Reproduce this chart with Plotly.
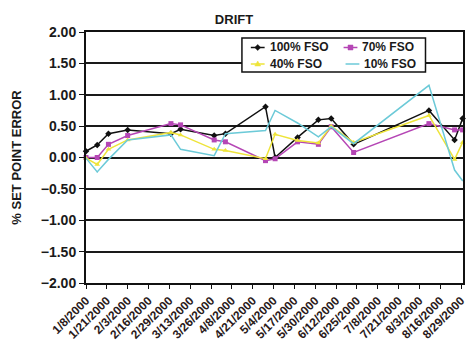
import plotly.graph_objects as go

# ---- data ----
dates = ["2000-01-08", "2000-01-15", "2000-01-22", "2000-02-03", "2000-03-01",
         "2000-03-07", "2000-03-28", "2000-04-04", "2000-04-29", "2000-05-05",
         "2000-05-19", "2000-06-01", "2000-06-09", "2000-06-23", "2000-08-09",
         "2000-08-25", "2000-08-30"]
fso100 = [0.10, 0.20, 0.38, 0.44, 0.38, 0.45, 0.35, 0.38, 0.81, 0.00,
          0.32, 0.60, 0.62, 0.21, 0.75, 0.28, 0.62]
fso70 = [0.00, 0.00, 0.21, 0.35, 0.54, 0.52, 0.28, 0.25, -0.05, -0.02,
         0.25, 0.21, 0.49, 0.08, 0.54, 0.44, 0.44]
fso40 = [-0.01, -0.11, 0.13, 0.28, 0.40, 0.36, 0.13, 0.11, -0.02, 0.37,
         0.27, 0.23, 0.50, 0.24, 0.67, -0.03, 0.24]
fso10 = [-0.01, -0.23, -0.03, 0.28, 0.36, 0.13, 0.03, 0.38, 0.43, 0.75,
         0.55, 0.33, 0.49, 0.22, 1.15, -0.20, -0.37]
series_names = ["100% FSO", "70% FSO", "40% FSO", "10% FSO"]

FONT = "Liberation Sans, Arial, sans-serif"
W, H = 472, 353
L, R, T, B = 86, 4, 32, 70
PW, PH = W - L - R, H - T - B


def px_x(p):
    return (p - L) / PW


def px_y(p):
    return (H - B - p) / PH


colors = ["#111111", "#B546B5", "#EEE43A", "#6CCAD8"]
symbols = ["diamond", "square", "triangle-up", "circle"]
msizes = [5, 5, 5, 1]

fig = go.Figure()
for name, vals, c, s, m in zip(series_names, [fso100, fso70, fso40, fso10],
                               colors, symbols, msizes):
    fig.add_trace(go.Scatter(
        x=dates, y=vals, name=name, mode="lines+markers",
        line=dict(color=c, width=1.5),
        marker=dict(color=c, symbol=s, size=m),
        cliponaxis=False, showlegend=False,
    ))

# ---- manual legend (box, samples, labels) ----
shapes = [dict(type="rect", xref="paper", yref="paper",
               x0=px_x(244), x1=px_x(430), y0=px_y(72), y1=px_y(38),
               line=dict(color="#111111", width=1.5), fillcolor="white",
               layer="above")]
annotations = []
slots = [(253, 47.5), (347, 47.5), (253, 64), (349, 64)]
for (sx, sy), name, c, sym in zip(slots, series_names, colors, symbols):
    shapes.append(dict(type="line", xref="paper", yref="paper",
                       x0=px_x(sx), x1=px_x(sx + 14), y0=px_y(sy), y1=px_y(sy),
                       line=dict(color=c, width=1.5), layer="above"))
    cx = sx + 7
    if sym == "diamond":
        pts = [(cx - 3, sy), (cx, sy - 3), (cx + 3, sy), (cx, sy + 3)]
    elif sym == "square":
        pts = [(cx - 2.5, sy - 2.5), (cx + 2.5, sy - 2.5), (cx + 2.5, sy + 2.5), (cx - 2.5, sy + 2.5)]
    elif sym == "triangle-up":
        pts = [(cx - 3, sy + 2), (cx, sy - 3), (cx + 3, sy + 2)]
    else:
        pts = None
    if pts:
        path = "M " + " L ".join(f"{px_x(a):.5f},{px_y(b):.5f}" for a, b in pts) + " Z"
        shapes.append(dict(type="path", xref="paper", yref="paper", path=path,
                           fillcolor=c, line=dict(color=c, width=0.5), layer="above"))
    annotations.append(dict(text="<b>" + name + "</b>", xref="paper", yref="paper",
                            x=px_x(sx + 17), y=px_y(sy), xanchor="left", yanchor="middle",
                            showarrow=False,
                            font=dict(size=12, family=FONT, color="#1a1a1a")))

fig.update_layout(
    width=W, height=H,
    margin=dict(l=L, r=R, t=T, b=B),
    paper_bgcolor="white", plot_bgcolor="white",
    font=dict(family=FONT, color="#1a1a1a"),
    title=dict(text="<b>DRIFT</b>", x=234 / W, xanchor="center",
               y=1 - 19 / H, yanchor="middle",
               font=dict(size=13, family=FONT, color="#1a1a1a")),
    showlegend=False,
    shapes=shapes,
    annotations=annotations,
)
fig.update_xaxes(
    type="date", range=["2000-01-08", "2000-08-30 06:00"],
    tick0="2000-01-08", dtick=13 * 86400000, tickformat="%-m/%-d/%Y",
    tickangle=-45, ticks="outside", ticklen=4, tickcolor="#111111",
    showline=True, linecolor="#111111", linewidth=2, mirror=True,
    showgrid=False, tickfont=dict(size=12, family=FONT, color="#2a1a1a"),
    tickprefix="<b>", ticksuffix="</b>",
)
fig.update_yaxes(
    range=[-2, 2], dtick=0.5, tick0=0, tickformat=".2f",
    ticks="outside", ticklen=5, tickcolor="#111111",
    showline=True, linecolor="#111111", linewidth=2, mirror=True,
    showgrid=True, gridcolor="#1a1a1a", gridwidth=2, zeroline=False,
    tickfont=dict(size=14, family=FONT, color="#1a1a1a"),
    tickprefix="<b>", ticksuffix="</b>",
    title=dict(text="<b>% SET POINT ERROR</b>", standoff=16,
               font=dict(size=13, family=FONT, color="#1a1a1a")),
)

fig.write_html("out.html")
